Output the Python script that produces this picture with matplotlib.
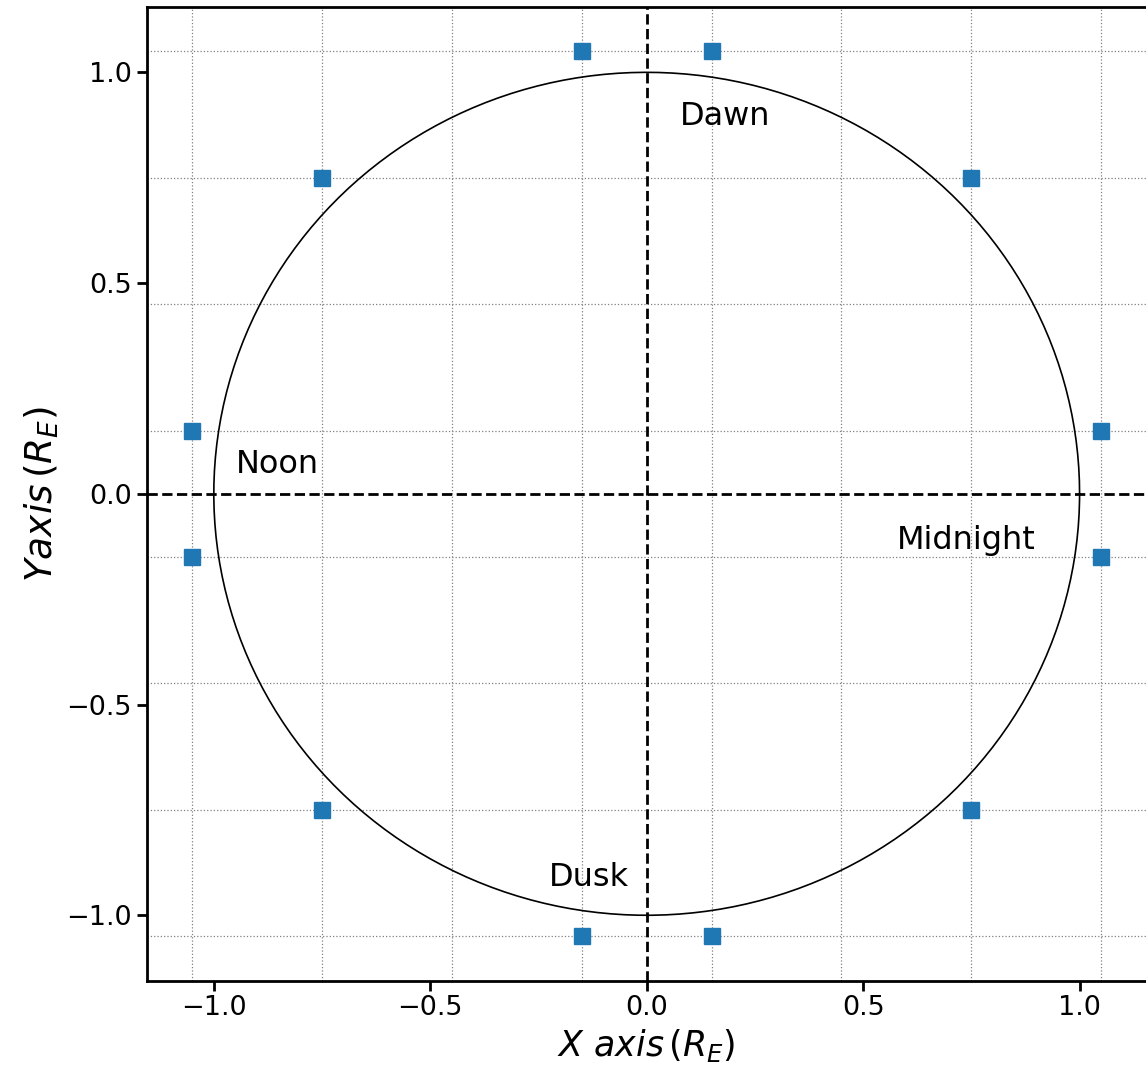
import numpy as np
import matplotlib.pyplot as plt

# station positions (R_E)
x_pts = [0.15, 0.75, 1.05, 1.05, 0.75, 0.15, -0.15, -0.75, -1.05, -1.05, -0.75, -0.15]
y_pts = [1.05, 0.75, 0.15, -0.15, -0.75, -1.05, -1.05, -0.75, -0.15, 0.15, 0.75, 1.05]
grid_pos = [-1.05, -0.75, -0.45, -0.15, 0.15, 0.45, 0.75, 1.05]
major_ticks = [-1.0, -0.5, 0.0, 0.5, 1.0]
labels = ['Dawn', 'Noon', 'Midnight', 'Dusk']
label_x = [0.077, -0.95, 0.578, -0.225]
label_y = [0.875, 0.05, -0.13, -0.93]

fig = plt.figure(figsize=(11.46, 10.77), dpi=100)
ax = fig.add_axes([0.128, 0.0895, 0.8726, 0.904])

theta = np.linspace(0, 2*np.pi, 400)
ax.plot(np.cos(theta), np.sin(theta), color='black', lw=1.2)
ax.axhline(0, color='black', ls='--', lw=2)
ax.axvline(0, color='black', ls='--', lw=2)
ax.plot(x_pts, y_pts, ls='none', marker='s', ms=11, color='#1f77b4', zorder=3)

for t, tx, ty in zip(labels, label_x, label_y):
    ax.text(tx, ty, t, fontsize=23)

ax.set_xlim(-1.155, 1.155)
ax.set_ylim(-1.155, 1.155)
ax.set_xticks(major_ticks)
ax.set_yticks(major_ticks)
ax.set_xticks(grid_pos, minor=True)
ax.set_yticks(grid_pos, minor=True)
ax.tick_params(which='minor', length=0)
ax.tick_params(which='major', labelsize=19.5, width=2, length=7)
ax.grid(which='minor', ls=':', color='gray', lw=0.9)
for s in ax.spines.values():
    s.set_linewidth(2)

ax.set_xlabel(r'$X\ axis\,(R_E)$', fontsize=25)
ax.set_ylabel(r'$Y axis\,(R_E)$', fontsize=27)

fig.savefig('out.png', dpi=100)
